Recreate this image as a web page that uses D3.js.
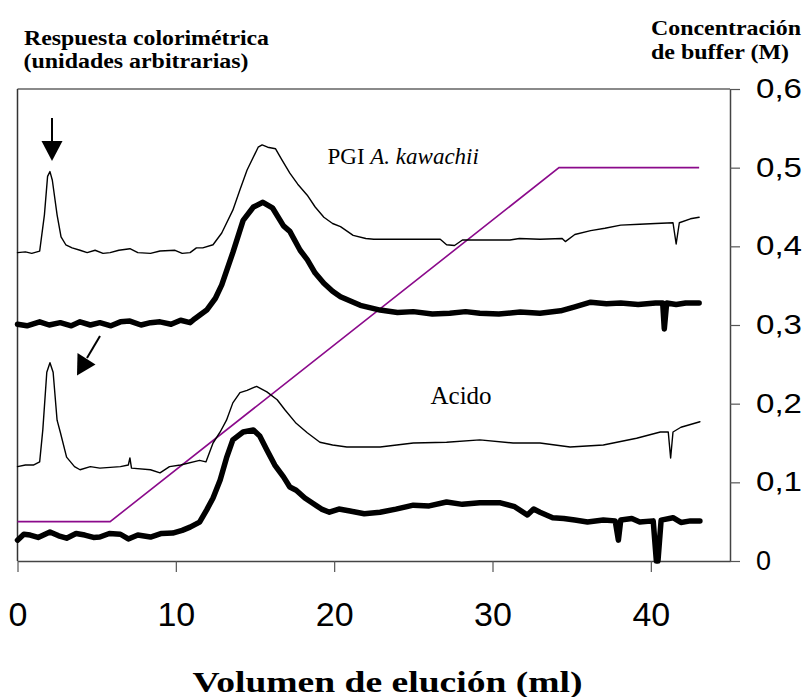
<!DOCTYPE html>
<html>
<head>
<meta charset="utf-8">
<script src="https://cdn.jsdelivr.net/npm/d3@7"></script>
<style>
  body { margin: 0; background: #fff; }
</style>
</head>
<body>
<script>
// elution volume (ml) vs colorimetric response (arbitrary units, 0-60 full height)
var pgiThin = [
  [0,39.2],[0.5,39.3],[0.9,39.1],[1.4,39.4],[1.7,44.0],[1.9,48.9],[2.05,49.5],[2.2,48.4],[2.5,44.0],
  [2.75,41.2],[3.05,40.2],[3.45,39.8],[3.95,39.5],[4.4,39.2],[4.9,39.5],[5.4,39.1],[5.85,39.2],
  [6.4,39.5],[7.1,39.7],[7.6,39.2],[8.4,39.1],[9.0,39.4],[9.95,39.5],[10.4,39.1],[10.9,39.2],
  [11.3,39.8],[11.7,39.8],[12.35,40.2],[12.9,41.7],[13.6,44.6],[14.05,47.2],[14.5,49.7],[15.2,52.6],
  [15.45,52.9],[15.8,52.6],[16.3,52.4],[16.7,51.0],[17.2,49.3],[17.7,47.9],[18.3,46.5],[18.8,45.0],
  [19.35,43.7],[19.9,42.9],[20.4,42.5],[21.2,41.4],[22.0,41.0],[22.5,40.9],[24.2,40.9],[25.7,40.9],
  [26.7,40.9],[27.1,40.2],[27.6,40.1],[28.1,40.8],[31.1,40.8],[31.7,41.0],[33.0,40.9],[34.4,41.0],
  [34.6,40.6],[35.2,41.5],[36.2,42.0],[37.1,42.3],[38.1,42.7],[39.3,42.8],[40.3,42.9],[41.4,43.0],
  [41.6,40.3],[41.8,43.0],[42.5,43.5],[43.05,43.7]
];
var pgiThick = [
  [0,30.1],[0.6,29.9],[1.4,30.4],[2.0,30.0],[2.7,30.3],[3.4,29.9],[3.95,30.4],[4.6,30.0],[5.2,30.3],
  [5.9,29.9],[6.5,30.4],[7.1,30.5],[7.8,30.0],[8.4,30.3],[9.0,30.4],[9.7,30.1],[10.3,30.6],[10.9,30.3],
  [11.2,30.8],[11.95,31.9],[12.5,33.4],[12.9,35.1],[13.6,39.2],[14.25,43.3],[14.9,45.0],[15.5,45.6],
  [16.1,44.9],[16.8,42.6],[17.2,41.9],[17.85,39.5],[18.3,38.3],[18.8,36.6],[19.35,35.3],[19.9,34.3],
  [20.4,33.6],[21.65,32.5],[22.9,31.9],[24.0,31.6],[25.0,31.7],[26.2,31.4],[27.3,31.5],[28.3,31.7],
  [29.2,31.5],[30.4,31.4],[31.75,31.65],[33.0,31.5],[34.3,31.8],[35.2,32.3],[36.2,32.9],[37.2,32.7],
  [38.1,32.8],[39.2,32.6],[40.3,32.8],[40.75,32.8],[40.85,29.5],[41.0,32.8],[41.6,32.6],[42.2,32.8],
  [43.05,32.8]
];
var acidThin = [
  [0,12.0],[0.5,12.2],[1.0,12.2],[1.4,12.6],[1.6,16.7],[1.85,24.0],[2.05,25.2],[2.25,24.0],[2.5,17.9],
  [2.7,16.4],[3.1,13.2],[3.6,12.0],[3.95,11.6],[4.6,12.0],[5.2,11.8],[6.5,12.0],[7.0,12.2],[7.1,13.1],
  [7.2,11.8],[8.4,11.6],[9.0,11.2],[9.6,12.0],[10.3,12.2],[11.5,12.8],[11.9,12.6],[12.35,15.0],
  [12.8,16.4],[13.2,17.9],[13.6,20.1],[14.05,21.4],[14.5,21.7],[15.1,22.2],[15.75,21.5],[16.4,20.5],
  [16.9,19.2],[17.6,17.5],[18.3,16.3],[19.1,15.1],[19.9,14.75],[20.8,14.5],[22.9,14.5],[25.0,15.0],
  [27.1,15.1],[29.2,15.4],[31.3,15.0],[33.0,15.0],[34.9,14.5],[37.0,14.75],[39.1,15.6],[40.6,16.4],
  [41.1,16.4],[41.25,13.1],[41.4,16.4],[41.9,17.0],[43.1,17.7]
];
var acidThick = [
  [0,2.65],[0.4,3.4],[0.8,3.3],[1.3,3.0],[2.05,3.7],[2.6,3.2],[3.1,2.9],[3.7,3.5],[4.25,3.3],
  [4.8,3.0],[5.2,3.05],[5.8,3.5],[6.5,3.4],[7.0,2.8],[7.6,3.3],[8.4,3.05],[9.1,3.5],[9.8,3.55],
  [10.4,3.9],[10.9,4.3],[11.5,4.95],[11.95,6.5],[12.35,8.0],[12.8,10.3],[13.2,13.1],[13.6,15.4],
  [14.25,16.4],[14.9,16.65],[15.3,15.9],[15.75,14.1],[16.25,12.2],[16.8,10.7],[17.2,9.4],[17.6,9.0],
  [18.15,8.0],[18.6,7.4],[19.2,6.6],[19.7,6.2],[20.3,6.6],[21.0,6.35],[21.9,6.0],[22.9,6.2],
  [23.9,6.6],[25.0,7.1],[26.0,7.0],[27.1,7.5],[28.1,7.2],[29.2,7.4],[30.5,7.4],[31.4,6.9],[32.2,5.85],
  [32.6,6.6],[33.0,6.2],[33.8,5.5],[34.5,5.4],[35.2,5.2],[36.0,4.95],[37.0,5.2],[37.75,5.1],[37.95,2.65],
  [38.1,5.2],[38.8,5.4],[39.3,4.95],[40.15,5.1],[40.35,0],[40.45,0],[40.65,5.2],[41.4,5.5],[41.9,4.9],
  [42.5,5.1],[43.1,5.1]
];
// buffer concentration (M)
var buffer = [[0,0.05],[5.85,0.05],[34.2,0.5],[43.05,0.5]];

var xTicks = [0,10,20,30,40];
var yTicks = [0,0.1,0.2,0.3,0.4,0.5,0.6];

var SERIF = "'Liberation Serif', 'Times New Roman', Tinos, Times, serif";
var SANS = "'Liberation Sans', Arial, Arimo, Helvetica, sans-serif";

var w = 806, h = 697;
var x0 = 17.5, x1 = 730, yTop = 89, yBot = 561;

var svg = d3.select("body").append("svg")
  .attr("width", w).attr("height", h);

var x = d3.scaleLinear().domain([0,45]).range([x0, x1]);
var yL = d3.scaleLinear().domain([0,60]).range([yBot, yTop]);
var yR = d3.scaleLinear().domain([0,0.6]).range([yBot, yTop]);

// plot frame (top & left)
svg.append("line").attr("x1", x0).attr("x2", x1).attr("y1", yTop).attr("y2", yTop)
  .attr("stroke", "#8a8a8a").attr("stroke-width", 2);
svg.append("line").attr("x1", x0).attr("x2", x0).attr("y1", yTop).attr("y2", yBot)
  .attr("stroke", "#333").attr("stroke-width", 1.5);

var xAxis = svg.append("g").attr("transform", "translate(0," + yBot + ")")
  .call(d3.axisBottom(x).tickValues(xTicks).tickSize(11).tickSizeOuter(0).tickPadding(30));
xAxis.select(".domain").attr("stroke", "#444").attr("stroke-width", 1.5);
xAxis.selectAll(".tick line").attr("stroke", "#555").attr("stroke-width", 1.2);
xAxis.selectAll(".tick text").style("font-family", SANS).attr("font-size", 34).attr("fill", "#000");

var fmt = function(d){ return d === 0 ? "0" : d3.format(".1f")(d).replace(".", ","); };
var yAxis = svg.append("g").attr("transform", "translate(" + x1 + ",0)")
  .call(d3.axisRight(yR).tickValues(yTicks).tickFormat(fmt).tickSize(10).tickSizeOuter(0).tickPadding(16));
yAxis.select(".domain").attr("stroke", "#444").attr("stroke-width", 1.5);
yAxis.selectAll(".tick line").attr("stroke", "#555").attr("stroke-width", 1.2);
yAxis.selectAll(".tick text").style("font-family", SANS).attr("font-size", 27).attr("fill", "#000")
  .attr("textLength", function(d){ return d === 0 ? null : 46; })
  .attr("lengthAdjust", "spacingAndGlyphs");

var line = d3.line().x(function(d){ return x(d[0]); }).y(function(d){ return yL(d[1]); });
var lineR = d3.line().x(function(d){ return x(d[0]); }).y(function(d){ return yR(d[1]); });

svg.append("path").datum(buffer).attr("d", lineR)
  .attr("fill", "none").attr("stroke", "#8b0a8b").attr("stroke-width", 1.6);

[[pgiThin,1.4],[acidThin,1.4],[pgiThick,5.5],[acidThick,5.5]].forEach(function(s){
  svg.append("path").datum(s[0]).attr("d", line)
    .attr("fill", "none").attr("stroke", "#000").attr("stroke-width", s[1])
    .attr("stroke-linejoin", "round").attr("stroke-linecap", "round");
});

// arrows
svg.append("line").attr("x1", 52).attr("y1", 118).attr("x2", 52).attr("y2", 143)
  .attr("stroke", "#000").attr("stroke-width", 2);
svg.append("path").attr("d", "M41.5,141 L62.5,141 L52,161 Z").attr("fill", "#000");
svg.append("line").attr("x1", 100).attr("y1", 336).attr("x2", 87).attr("y2", 358)
  .attr("stroke", "#000").attr("stroke-width", 2);
svg.append("path").attr("d", "M77.5,353 L95.5,364.5 L77,375.5 Z").attr("fill", "#000");

// labels
function label(tx, ty, size, bold, str, len) {
  var t = svg.append("text").attr("x", tx).attr("y", ty)
    .style("font-family", SERIF).attr("font-size", size).attr("fill", "#000")
    .attr("font-weight", bold ? "bold" : "normal").text(str);
  if (len) t.attr("textLength", len).attr("lengthAdjust", "spacingAndGlyphs");
  return t;
}

var t1 = svg.append("text").attr("x", 327.5).attr("y", 163.5)
  .style("font-family", SERIF).attr("font-size", 23).attr("fill", "#000");
t1.append("tspan").text("PGI ");
t1.append("tspan").attr("font-style", "italic").text("A. kawachii");
label(430.5, 404, 25, false, "Acido");

label(24, 45, 20, true, "Respuesta colorimétrica", 245);
label(23.5, 68, 20, true, "(unidades arbitrarias)", 225);
label(651, 35, 21, true, "Concentración", 150);
label(651, 59, 21, true, "de buffer (M)", 138);
label(192.5, 691.5, 29, true, "Volumen de elución (ml)", 390);
</script>
</body>
</html>
